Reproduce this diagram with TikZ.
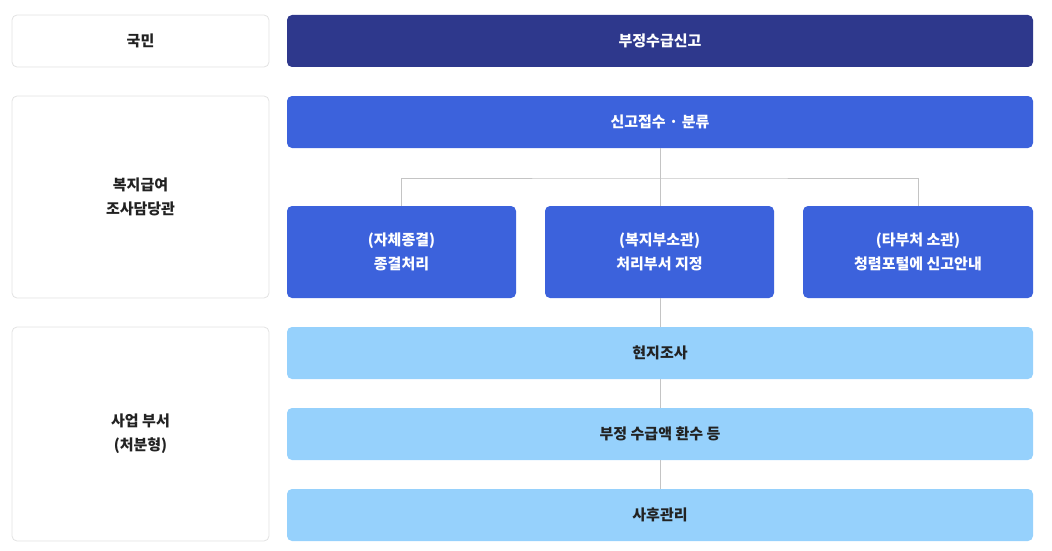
\documentclass[tikz,border=0pt]{standalone}
\usepackage{fontspec}
\newfontfamily\kr{Noto Sans CJK KR}
\definecolor{navy}{HTML}{2E388C}
\definecolor{royal}{HTML}{3C62DC}
\definecolor{sky}{HTML}{96D1FC}
\definecolor{edge}{HTML}{E2E2E2}
\definecolor{conn}{HTML}{C4C4C4}
\definecolor{ink}{HTML}{222222}
\tikzset{
  base/.style={rectangle, rounded corners=5pt, inner sep=0pt, align=center,
    font=\kr\bfseries\fontsize{15}{24}\selectfont},
  lbox/.style={base, draw=edge, line width=0.8pt, fill=white, text=ink, minimum width=257pt},
  navybox/.style={base, fill=navy, text=white, minimum width=746pt, minimum height=52pt},
  bluebox/.style={base, fill=royal, text=white},
  skybox/.style={base, fill=sky, text=ink, minimum width=746pt, minimum height=52pt},
  connline/.style={draw=conn, line width=1pt}
}
\begin{document}
\begin{tikzpicture}[x=1pt,y=-1pt]
\useasboundingbox (0,0) rectangle (1052,551);
% left column
\node[lbox, minimum height=52pt] (l1) at (140.5,41) {국민};
\node[lbox, minimum height=202pt] (l2) at (140.5,197) {복지급여\\조사담당관};
\node[lbox, minimum height=214pt] (l3) at (140.5,434) {사업 부서\\(처분형)};
% connectors
\coordinate (bar) at (660,178);
% right column
\node[navybox] (report) at (660,41) {부정수급신고};
\node[bluebox, minimum width=746pt, minimum height=52pt] (recv) at (660,122) {신고접수 · 분류};
\node[bluebox, minimum width=229pt, minimum height=92pt] (self) at (401.5,252) {(자체종결)\\종결처리};
\node[bluebox, minimum width=229pt, minimum height=92pt] (mid) at (659.5,252) {(복지부소관)\\처리부서 지정};
\node[bluebox, minimum width=230pt, minimum height=92pt] (other) at (918,252) {(타부처 소관)\\청렴포털에 신고안내};
\node[skybox] (site) at (660,353) {현지조사};
\node[skybox] (refund) at (660,434) {부정 수급액 환수 등};
\node[skybox] (after) at (660,515) {사후관리};
\draw[connline] (recv.south) -- (recv.south |- mid.north);
\draw[connline] (self.north) |- (bar) -| (other.north);
\draw[connline] (mid.south -| site.north) -- (site.north);
\draw[connline] (site.south) -- (refund.north);
\draw[connline] (refund.south) -- (after.north);
\end{tikzpicture}
\end{document}
